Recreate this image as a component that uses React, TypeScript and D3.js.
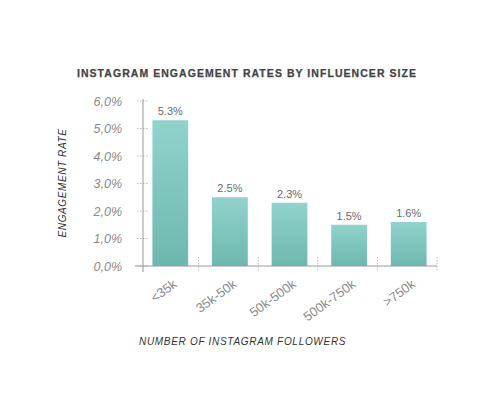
import React from 'react';
import * as d3 from 'd3';

// 数据
const categories = ['<35k', '35k-50k', '50k-500k', '500k-750k', '>750k'];
const rates = [5.3, 2.5, 2.3, 1.5, 1.6];
const yTicks = [0, 1, 2, 3, 4, 5, 6];

const W = 484;
const H = 404;
const margin = { top: 101, right: 47, bottom: 138, left: 143 };

const font = '"Liberation Sans", Arial, Helvetica, sans-serif';

const App: React.FC = () => {
  const x0 = margin.left - 4;
  const x1 = W - margin.right;
  const yBase = H - margin.bottom;

  const xScale = d3.scaleBand<string>()
    .domain(categories)
    .range([x0, x1])
    .paddingInner(0.4)
    .paddingOuter(0.2);

  const yScale = d3.scaleLinear()
    .domain([0, 6])
    .range([yBase, margin.top]);

  const step = xScale.step();
  const bandStart = (c: string) => xScale(c)! - xScale.paddingInner() * step / 2;
  const separators = categories.map(c => bandStart(c) + step).slice(0, -1).concat([x1]);

  const fmt = (d: number) => d.toFixed(1).replace('.', ',') + '%';

  return (
    <svg
      width={W}
      height={H}
      style={{ position: 'absolute', left: 0, top: 0, background: '#ffffff' }}
      fontFamily={font}
    >
      <defs>
        <linearGradient id="barFill" x1="0" y1="0" x2="0" y2="1">
          <stop offset="0%" stopColor="#91d3cc" />
          <stop offset="100%" stopColor="#6db8ae" />
        </linearGradient>
      </defs>

      {/* 标题 */}
      <text
        x={247}
        y={77}
        textAnchor="middle"
        fontSize={10.5}
        fontWeight="bold"
        letterSpacing={1.05}
        fill="#444444"
        stroke="#444444"
        strokeWidth={0.25}
      >
        INSTAGRAM ENGAGEMENT RATES BY INFLUENCER SIZE
      </text>

      {/* Y轴刻度 */}
      {yTicks.map(t => (
        <g key={t}>
          <line
            x1={margin.left - 6}
            x2={margin.left + 5}
            y1={yScale(t)}
            y2={yScale(t)}
            stroke="#aaaaaa"
            strokeWidth={0.8}
            strokeDasharray="1.5,1.5"
          />
          <text
            x={122}
            y={yScale(t) + 4.5}
            textAnchor="end"
            fontSize={12.5}
            fontStyle="italic"
            fill="#8a8a8a"
          >
            {fmt(t)}
          </text>
        </g>
      ))}

      {/* 柱子 */}
      {categories.map((c, i) => (
        <g key={c}>
          <rect
            x={xScale(c)! + 1.5}
            y={yScale(rates[i])}
            width={xScale.bandwidth()}
            height={yBase - yScale(rates[i])}
            fill="url(#barFill)"
          />
          <text
            x={xScale(c)! + 1.5 + xScale.bandwidth() / 2}
            y={yScale(rates[i]) - 5}
            textAnchor="middle"
            fontSize={11}
            fill="#6a6a6a"
          >
            {rates[i].toFixed(1)}%
          </text>
          <text
            transform={`translate(${xScale(c)! + xScale.bandwidth() / 2 + 9}, ${yBase + 20}) rotate(-36)`}
            textAnchor="end"
            fontSize={13}
            fill="#8a8a8a"
          >
            {c}
          </text>
        </g>
      ))}

      {/* 分隔虚线 */}
      {separators.map((sx, i) => (
        <line
          key={i}
          x1={sx}
          x2={sx}
          y1={yBase - 9}
          y2={yBase + 6}
          stroke="#aaaaaa"
          strokeWidth={0.8}
          strokeDasharray="1.5,1.5"
        />
      ))}

      {/* 坐标轴 */}
      <line x1={margin.left} x2={margin.left} y1={margin.top - 2} y2={yBase + 6} stroke="#999999" strokeWidth={1} />
      <line x1={margin.left - 8} x2={x1} y1={yBase} y2={yBase} stroke="#999999" strokeWidth={1} />

      {/* 轴标题 */}
      <text
        transform={`translate(66, 183) rotate(-90)`}
        textAnchor="middle"
        fontSize={10}
        fontStyle="italic"
        letterSpacing={0.6}
        fill="#333333"
      >
        ENGAGEMENT RATE
      </text>
      <text
        x={139}
        y={345}
        fontSize={10}
        fontStyle="italic"
        letterSpacing={0.7}
        fill="#333333"
      >
        NUMBER OF INSTAGRAM FOLLOWERS
      </text>
    </svg>
  );
};

export default App;
